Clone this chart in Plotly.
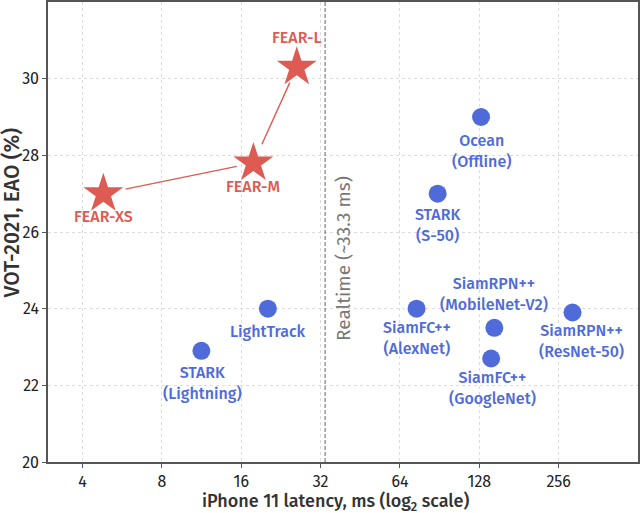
import math
import plotly.graph_objects as go

# FEAR family (iPhone 11 latency in ms, VOT-2021 EAO in %)
fear_names = ["FEAR-XS", "FEAR-M", "FEAR-L"]
fear_latency = [4.8, 17.8, 26.0]
fear_eao = [27.0, 27.8, 30.3]

# other trackers
other_names = ["Ocean<br>(Offline)", "STARK<br>(S-50)", "LightTrack", "STARK<br>(Lightning)",
               "SiamFC++<br>(AlexNet)", "SiamRPN++<br>(MobileNet-V2)", "SiamFC++<br>(GoogleNet)",
               "SiamRPN++<br>(ResNet-50)"]
other_latency = [130, 89, 20.2, 11.3, 74, 146, 142, 289]
other_eao = [29.0, 27.0, 24.0, 22.9, 24.0, 23.5, 22.7, 23.9]

realtime_ms = 33.3
x_ticks = [4, 8, 16, 32, 64, 128, 256]
y_ticks = [20, 22, 24, 26, 28, 30]

red = "#dd5b53"
blue = "#4f6bd9"
font = "Fira Sans, Noto Sans, sans-serif"

fig = go.Figure()

fig.add_trace(go.Scatter(x=[realtime_ms, realtime_ms], y=[20, 32], mode="lines",
                         line=dict(color="#666666", width=1, dash="4px,2px"), hoverinfo="skip"))

fig.add_trace(go.Scatter(x=other_latency, y=other_eao, mode="markers",
                         marker=dict(symbol="circle", size=18, color=blue)))
fig.add_trace(go.Scatter(x=fear_latency, y=fear_eao, mode="markers",
                         marker=dict(symbol="star", size=30, color=red, line=dict(width=0))))

# connecting segments between FEAR models, shortened at both ends
for i in range(len(fear_names) - 1):
    fig.add_annotation(x=math.log10(fear_latency[i + 1]), y=fear_eao[i + 1],
                       ax=math.log10(fear_latency[i]), ay=fear_eao[i],
                       xref="x", yref="y", axref="x", ayref="y",
                       showarrow=True, arrowhead=0, arrowwidth=1.4, arrowcolor=red,
                       standoff=17, startstandoff=21 if i == 0 else 19, text="")

fear_shift = [-23, -23, 30]
for n, lx, ly, dy in zip(fear_names, fear_latency, fear_eao, fear_shift):
    fig.add_annotation(x=math.log10(lx), y=ly, text=n, showarrow=False, yshift=dy,
                       font=dict(family=font, size=16, color=red, weight=500))

other_shift = [(0, -34), (0, -31), (0, -23), (1, -32), (0, -29), (0, 34), (1, -29), (9, -28)]
for n, lx, ly, (dx, dy) in zip(other_names, other_latency, other_eao, other_shift):
    fig.add_annotation(x=math.log10(lx), y=ly, text=n, showarrow=False, xshift=dx, yshift=dy,
                       font=dict(family=font, size=16, color=blue, weight=500))

fig.add_annotation(x=math.log10(realtime_ms), y=25.3, text="Realtime (~33.3 ms)", textangle=-90,
                   showarrow=False, xshift=19, font=dict(family=font, size=19, color="#777777"))

# axis titles placed as paper annotations
fig.add_annotation(xref="paper", yref="paper", x=0.488, y=0, yshift=-40,
                   xanchor="center", yanchor="middle",
                   text="iPhone 11 latency, ms (log<sub>2</sub> scale)", showarrow=False,
                   font=dict(family=font, size=18, color="#333333", weight=500))
fig.add_annotation(xref="paper", yref="paper", x=0, y=0.54, xshift=-36,
                   xanchor="center", yanchor="middle", textangle=-90,
                   text="VOT-2021, EAO (%)", showarrow=False,
                   font=dict(family=font, size=21, color="#333333", weight=500))

axis_style = dict(showline=True, mirror=True, linecolor="#555555", linewidth=1.5,
                  ticks="outside", ticklen=4, tickcolor="#555555",
                  showgrid=True, gridcolor="#dcdcdc", griddash="dot", gridwidth=1,
                  zeroline=False, automargin=False,
                  tickfont=dict(family=font, size=16, color="#222222"))

fig.update_xaxes(type="log", range=[math.log10(2.96), math.log10(512)],
                 tickvals=x_ticks, ticktext=[str(t) for t in x_ticks], **axis_style)
fig.update_yaxes(range=[20, 32], tickvals=y_ticks, **axis_style)

fig.update_layout(width=640, height=513, showlegend=False,
                  margin=dict(l=48, r=2, t=2, b=51),
                  plot_bgcolor="white", paper_bgcolor="white")

# drop the default page margin so the 640x513 figure fills the window
fig.write_html("out.html", config={"displayModeBar": False},
               post_script="document.body.style.margin='0';")
